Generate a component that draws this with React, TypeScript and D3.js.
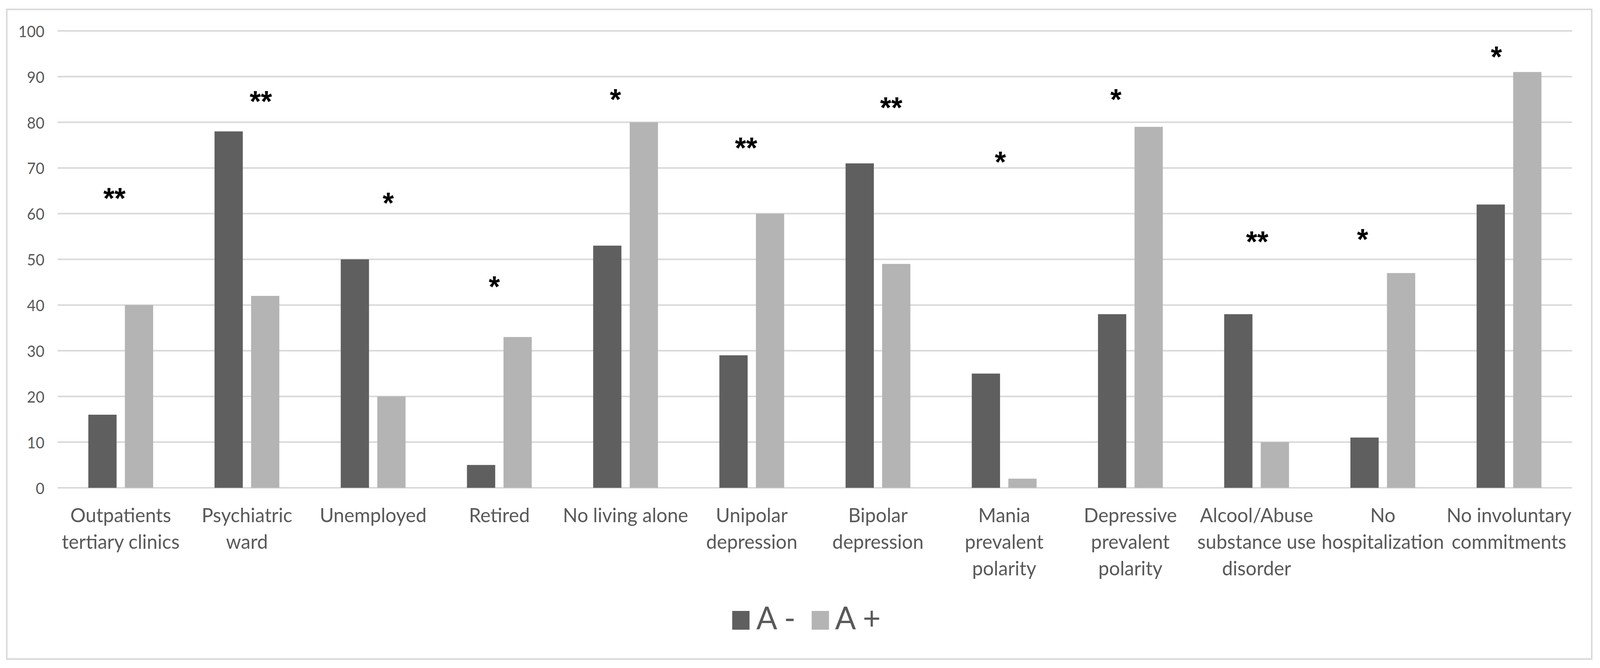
import React from "react";
import * as d3 from "d3";

const categories: string[][] = [
  ["Outpatients", "tertiary clinics"],
  ["Psychiatric", "ward"],
  ["Unemployed"],
  ["Retired"],
  ["No living alone"],
  ["Unipolar", "depression"],
  ["Bipolar", "depression"],
  ["Mania", "prevalent", "polarity"],
  ["Depressive", "prevalent", "polarity"],
  ["Alcool/Abuse", "substance use", "disorder"],
  ["No", "hospitalization"],
  ["No involuntary", "commitments"],
];
const seriesNames = ["A -", "A +"];
const aMinus = [16, 78, 50, 5, 53, 29, 71, 25, 38, 38, 11, 62];
const aPlus = [40, 42, 20, 33, 80, 60, 49, 2, 79, 10, 47, 91];
const significance = ["**", "**", "*", "*", "*", "**", "**", "*", "*", "**", "*", "*"];
// annotation anchor: height in data units, horizontal shift in fractions of a category band
const sigLevel = [65, 86.2, 63.9, 45.6, 86.6, 76, 84.8, 72.9, 86.6, 55.5, 56, 95.9];
const sigShift = [-0.05, 0.11, 0.12, -0.04, -0.08, -0.045, 0.105, -0.03, -0.115, 0.005, -0.16, -0.1];
const yTicks = [0, 10, 20, 30, 40, 50, 60, 70, 80, 90, 100];

const W = 4248;
const H = 1709;
const DARK = "#5f5f5f";
const LIGHT = "#b4b4b4";
const GRID = "#d9d9d9";
const TEXT = "#595959";
const FONT = "Lato, 'Open Sans', sans-serif";

export default function App() {
  const idx = categories.map((_, i) => String(i));
  const x = d3.scaleBand<string>().domain(idx).range([153, 4174]).paddingInner(0).paddingOuter(0);
  const xs = d3
    .scaleBand<string>()
    .domain(seriesNames)
    .range([0, x.bandwidth()])
    .paddingInner(0.227)
    .paddingOuter(0.84);
  const y = d3.scaleLinear().domain([0, 100]).range([1248, 79]);
  const colors = d3.scaleOrdinal<string, string>().domain(seriesNames).range([DARK, LIGHT]);
  const values = [aMinus, aPlus];

  const labelFs = 51;
  const lineH = 68;
  const firstBase = 1336;
  const starFs = 76;

  return (
    <svg
      viewBox={`0 0 ${W} ${H}`}
      preserveAspectRatio="none"
      style={{
        position: "fixed",
        left: 0,
        top: 0,
        width: "100vw",
        height: "100vh",
        background: "#fff",
        display: "block",
      }}
    >
      <rect x={0} y={0} width={W} height={H} fill="#fff" />
      <rect x={18} y={24} width={4208} height={1662} fill="#fff" stroke={GRID} strokeWidth={4} />
      {yTicks.map((t) => (
        <g key={t}>
          <line x1={153} x2={4174} y1={y(t)} y2={y(t)} stroke={GRID} strokeWidth={4} />
          <text
            x={118}
            y={y(t)}
            textAnchor="end"
            dominantBaseline="central"
            fontFamily={FONT}
            fontSize={40}
            fill={TEXT}
          >
            {t}
          </text>
        </g>
      ))}
      {values.map((vals, s) =>
        vals.map((v, i) => (
          <rect
            key={`${s}-${i}`}
            x={(x(String(i)) as number) + (xs(seriesNames[s]) as number)}
            y={y(v)}
            width={xs.bandwidth()}
            height={y(0) - y(v)}
            fill={colors(seriesNames[s])}
          />
        ))
      )}
      {categories.map((lines, i) => {
        const cx = (x(String(i)) as number) + x.bandwidth() / 2;
        return (
          <text key={i} textAnchor="middle" fontFamily={FONT} fontSize={labelFs} fill={TEXT}>
            {lines.map((ln, j) => (
              <tspan key={j} x={cx} y={firstBase + j * lineH}>
                {ln}
              </tspan>
            ))}
          </text>
        );
      })}
      {significance.map((s, i) => {
        const cx = (x(String(i)) as number) + x.bandwidth() * (0.5 + sigShift[i]);
        return (
          <text
            key={i}
            x={cx}
            y={y(sigLevel[i]) + starFs * 0.585}
            textAnchor="middle"
            fontFamily="'Liberation Sans', Arial, sans-serif"
            fontWeight="bold"
            fontSize={starFs}
            fill="#000"
          >
            {s}
          </text>
        );
      })}
      <g>
        <rect x={1944} y={1563} width={46} height={48} fill={DARK} />
        <text x={2008} y={1610} fontFamily={FONT} fontSize={82} fill={TEXT}>
          {seriesNames[0]}
        </text>
        <rect x={2155} y={1563} width={46} height={48} fill={LIGHT} />
        <text x={2217} y={1610} fontFamily={FONT} fontSize={82} fill={TEXT}>
          {seriesNames[1]}
        </text>
      </g>
    </svg>
  );
}
